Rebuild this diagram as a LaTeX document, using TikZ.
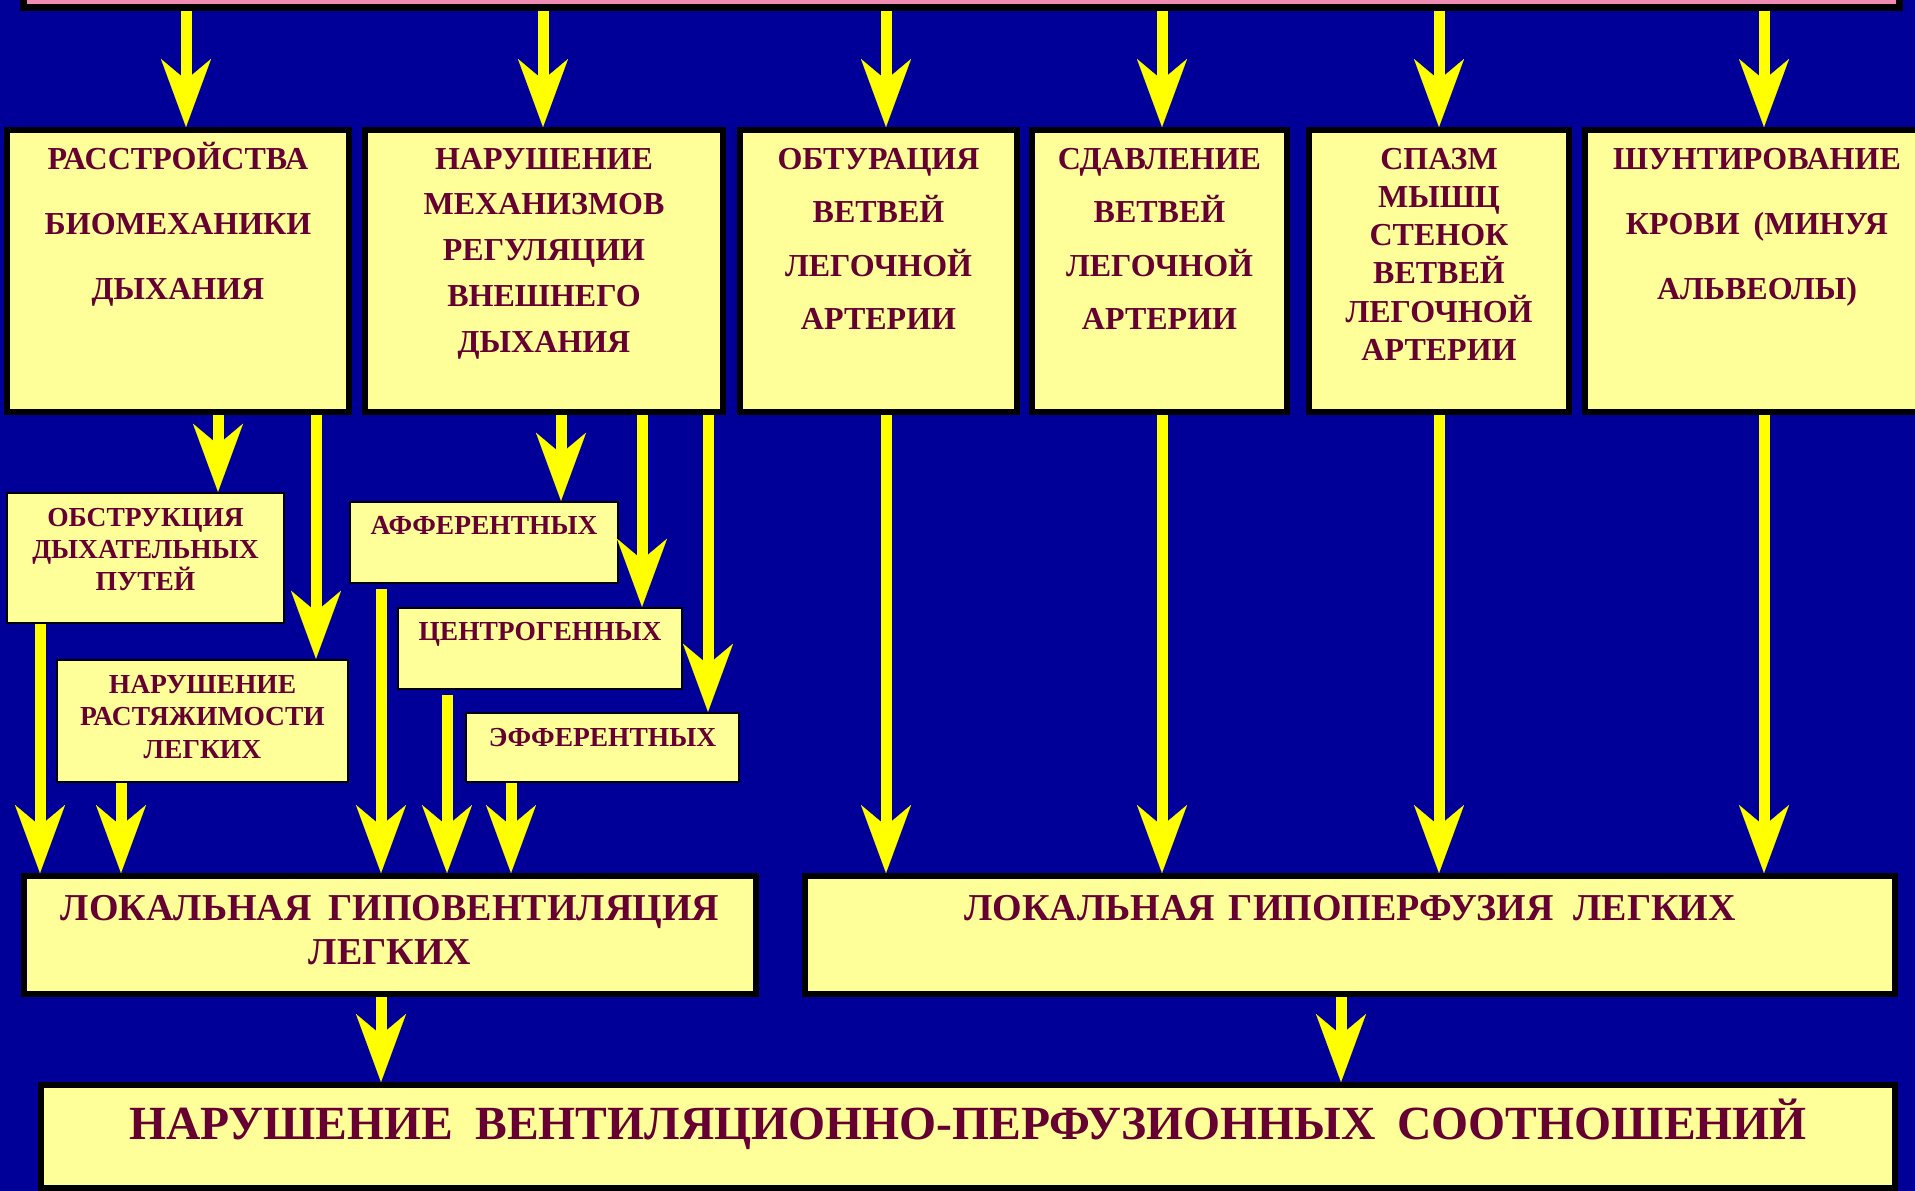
\documentclass[tikz,border=0pt]{standalone}
\usepackage{fontspec}
\setmainfont{Liberation Serif}
\usetikzlibrary{arrows.meta,fit}
\definecolor{bgblue}{RGB}{0,0,153}
\definecolor{boxyel}{RGB}{255,255,153}
\definecolor{txtred}{RGB}{102,0,51}
\definecolor{arryel}{RGB}{255,255,0}
\definecolor{barpink}{RGB}{240,140,180}
\begin{document}
\begin{tikzpicture}[x=1pt,y=-1pt,
  bigbox/.style={draw=black, line width=6pt, fill=boxyel, inner sep=0pt},
  smallbox/.style={draw=black, line width=2.5pt, fill=boxyel, inner sep=0pt},
  txt/.style={text=txtred, inner sep=0pt, anchor=base, align=center, text width=420pt},
  ftop/.style={font=\bfseries\fontsize{32}{#1}\selectfont},
  fsmall/.style={font=\bfseries\fontsize{27.5}{#1}\selectfont},
  arr/.style={draw=arryel, line width=11pt, -{Stealth[length=68pt, width=50pt, inset=21pt, line width=0.1pt]}}]
\useasboundingbox (0,0) rectangle (1915,1191);
\begin{scope}
\clip (0,0) rectangle (1915,1191);
\fill[bgblue] (0,0) rectangle (1915,1191);
% top bar
\node[bigbox, line width=7pt, fill=barpink, fit={(23.5,-60) (1899.5,7.5)}] (top) {};
% top row
\node[bigbox, fit={(7,130) (349,412)}] (b1) {};
\node[bigbox, fit={(365,130) (723,412)}] (b2) {};
\node[bigbox, fit={(740,130) (1017,412)}] (b3) {};
\node[bigbox, fit={(1032,130) (1287,412)}] (b4) {};
\node[bigbox, fit={(1309,130) (1569,412)}] (b5) {};
\node[bigbox, fit={(1585,130) (1929,412)}] (b6) {};
% second level
\node[smallbox, fit={(7,493) (284,623)}] (obs) {};
\node[smallbox, fit={(57,660) (348,782)}] (rast) {};
\node[smallbox, fit={(350,502) (618,583)}] (aff) {};
\node[smallbox, fit={(398,608) (682,689)}] (cen) {};
\node[smallbox, fit={(466,713) (739,782)}] (eff) {};
% lower boxes
\node[bigbox, fit={(24,876) (756,994)}] (hv) {};
\node[bigbox, fit={(805,876) (1895,994)}] (hp) {};
\node[bigbox, fit={(41,1085) (1895,1188)}] (res) {};
\coordinate (affout) at ([yshift=-5pt]aff.south);
\coordinate (cenout) at ([yshift=-5pt]cen.south);
% arrows from top bar
\draw[arr] (top.south -| 186,0) -- (b1.north -| 186,0);
\draw[arr] (top.south -| 543,0) -- (b2.north -| 543,0);
\draw[arr] (top.south -| 886,0) -- (b3.north -| 886,0);
\draw[arr] (top.south -| 1162,0) -- (b4.north -| 1162,0);
\draw[arr] (top.south -| 1439,0) -- (b5.north -| 1439,0);
\draw[arr] (top.south -| 1764,0) -- (b6.north -| 1764,0);
% arrows to second level
\draw[arr] (b1.south -| 218,0) -- (obs.north -| 218,0);
\draw[arr] (b1.south -| 316,0) -- (rast.north -| 316,0);
\draw[arr] (b2.south -| 561,0) -- (aff.north -| 561,0);
\draw[arr] (b2.south -| 642,0) -- (cen.north -| 642,0);
\draw[arr] (b2.south -| 708,0) -- (eff.north -| 708,0);
% arrows to hypoventilation
\draw[arr] (obs.south -| 40,0) -- (hv.north -| 40,0);
\draw[arr] (rast.south -| 121,0) -- (hv.north -| 121,0);
\draw[arr] (affout -| 381,0) -- (hv.north -| 381,0);
\draw[arr] (cenout -| 447,0) -- (hv.north -| 447,0);
\draw[arr] (eff.south -| 511,0) -- (hv.north -| 511,0);
% arrows to hypoperfusion
\draw[arr] (b3.south -| 886,0) -- (hp.north -| 886,0);
\draw[arr] (b4.south -| 1162,0) -- (hp.north -| 1162,0);
\draw[arr] (b5.south -| 1439,0) -- (hp.north -| 1439,0);
\draw[arr] (b6.south -| 1764,0) -- (hp.north -| 1764,0);
% arrows to result
\draw[arr] (hv.south -| 381,0) -- (res.north -| 381,0);
\draw[arr] (hp.south -| 1341,0) -- (res.north -| 1341,0);
% texts
\node[txt, ftop=65] (t1) at (b1.north |- 0,169) {РАССТРОЙСТВА\\БИОМЕХАНИКИ\\ДЫХАНИЯ};
\node[txt, ftop=45.75] (t2) at (b2.north |- 0,169) {НАРУШЕНИЕ\\МЕХАНИЗМОВ\\РЕГУЛЯЦИИ\\ВНЕШНЕГО\\ДЫХАНИЯ};
\node[txt, ftop=53.5] (t3) at (b3.north |- 0,169) {ОБТУРАЦИЯ\\ВЕТВЕЙ\\ЛЕГОЧНОЙ\\АРТЕРИИ};
\node[txt, ftop=53.5] (t4) at (b4.north |- 0,169) {СДАВЛЕНИЕ\\ВЕТВЕЙ\\ЛЕГОЧНОЙ\\АРТЕРИИ};
\node[txt, ftop=38.3] (t5) at (b5.north |- 0,169) {СПАЗМ\\МЫШЦ\\СТЕНОК\\ВЕТВЕЙ\\ЛЕГОЧНОЙ\\АРТЕРИИ};
\node[txt, ftop=65] (t6) at (b6.north |- 0,169) {ШУНТИРОВАНИЕ\\КРОВИ\hspace{14pt}(МИНУЯ\\АЛЬВЕОЛЫ)};
\node[txt, fsmall=32] (tobs) at (obs.north |- 0,526) {ОБСТРУКЦИЯ\\ДЫХАТЕЛЬНЫХ\\ПУТЕЙ};
\node[txt, fsmall=32.5] (trast) at (rast.north |- 0,693) {НАРУШЕНИЕ\\РАСТЯЖИМОСТИ\\ЛЕГКИХ};
\node[txt, fsmall=32] (taff) at (aff.north |- 0,534) {АФФЕРЕНТНЫХ};
\node[txt, fsmall=32] (tcen) at (cen.north |- 0,640) {ЦЕНТРОГЕННЫХ};
\node[txt, fsmall=32] (teff) at (eff.north |- 0,746) {ЭФФЕРЕНТНЫХ};
\node[txt, text width=900pt, font=\bfseries\fontsize{38}{44}\selectfont] (thv) at (hv.north |- 0,920) {ЛОКАЛЬНАЯ\hspace{17pt}ГИПОВЕНТИЛЯЦИЯ\\ЛЕГКИХ};
\node[txt, text width=1200pt, font=\bfseries\fontsize{38}{44}\selectfont] (thp) at (hp.north |- 0,920) {ЛОКАЛЬНАЯ\hspace{14pt}ГИПОПЕРФУЗИЯ\hspace{20pt}ЛЕГКИХ};
\node[txt, text width=1850pt, font=\bfseries\fontsize{47.6}{55}\selectfont] (tres) at (res.north |- 0,1139) {НАРУШЕНИЕ\hspace{22pt}ВЕНТИЛЯЦИОННО-ПЕРФУЗИОННЫХ\hspace{22pt}СООТНОШЕНИЙ};
\end{scope}
\end{tikzpicture}
\end{document}
